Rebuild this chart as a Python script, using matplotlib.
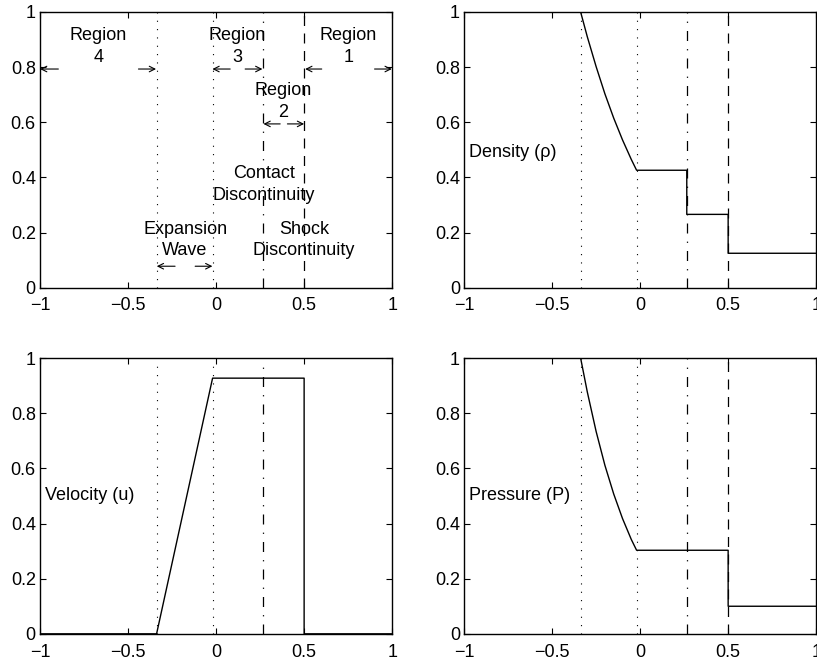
import numpy as np
import matplotlib
matplotlib.use("Agg")
import matplotlib.pyplot as plt
from matplotlib.ticker import FuncFormatter

plt.rcParams["font.family"] = ["Liberation Sans", "DejaVu Sans"]
plt.rcParams["font.size"] = 13

# wave positions (x)
x_head = -0.338      # expansion head
x_tail = -0.020     # expansion tail
x_contact = 0.265
x_shock = 0.50

rho_x = [-1.0, -0.338, -0.30, -0.25, -0.20, -0.15, -0.10, -0.05, -0.020,
         0.265, 0.265, 0.50, 0.50, 1.0]
rho_y = [1.0, 1.0, 0.910, 0.802, 0.703, 0.615, 0.536, 0.465, 0.426,
         0.426, 0.266, 0.266, 0.125, 0.125]

u_x = [-1.0, -0.338, -0.020, 0.50, 0.50, 1.0]
u_y = [0.0, 0.0, 0.927, 0.927, 0.0, 0.0]

p_x = [-1.0, -0.338, -0.30, -0.25, -0.20, -0.15, -0.10, -0.05, -0.020,
       0.50, 0.50, 1.0]
p_y = [1.0, 1.0, 0.877, 0.734, 0.611, 0.507, 0.418, 0.342, 0.303,
       0.303, 0.100, 0.100]

xticks = [-1, -0.5, 0, 0.5, 1]
yticks = [0, 0.2, 0.4, 0.6, 0.8, 1]

DOT = (0, (1, 6.5))
DASHDOT = (0, (8, 6.5, 1, 6.5))
DASH = (0, (8, 6))


def fmt(v, pos):
    return ("%g" % v).replace("-", "\u2212")


def style(ax):
    ax.set_xlim(-1, 1)
    ax.set_ylim(0, 1)
    ax.set_xticks(xticks)
    ax.set_yticks(yticks)
    ax.xaxis.set_major_formatter(FuncFormatter(fmt))
    ax.yaxis.set_major_formatter(FuncFormatter(fmt))
    ax.tick_params(direction="in", length=4, width=0.8, top=True, right=True,
                   labelsize=13)
    ax.tick_params(axis="x", pad=7)
    ax.tick_params(axis="y", pad=3)
    for s in ax.spines.values():
        s.set_linewidth(1.0)


def wave_lines(ax, top=1.0, shock=True):
    ax.plot([x_head, x_head], [0, top], color="k", ls=DOT, lw=0.8)
    ax.plot([x_tail, x_tail], [0, top], color="k", ls=DOT, lw=0.8)
    ax.plot([x_contact, x_contact], [0, top], color="k", ls=DASHDOT, lw=0.9)
    if shock:
        ax.plot([x_shock, x_shock], [0, 1], color="k", ls=DASH, lw=0.9)


def arrow(ax, x0, x1, y):
    ax.annotate("", xy=(x1, y), xytext=(x0, y),
                arrowprops=dict(arrowstyle="->", lw=0.8, color="k",
                                shrinkA=0, shrinkB=0, mutation_scale=10))


fig = plt.figure(figsize=(8.17, 6.63), dpi=100)
W, H = 0.431, 0.416
ax1 = fig.add_axes([0.049, 0.566, W, H])
ax2 = fig.add_axes([0.568, 0.566, W, H])
ax3 = fig.add_axes([0.049, 0.044, W, H])
ax4 = fig.add_axes([0.568, 0.044, W, H])
for ax in (ax1, ax2, ax3, ax4):
    style(ax)

# 1. regions sketch
wave_lines(ax1)
txt = dict(ha="center", va="center", fontsize=13, linespacing=1.35)
ax1.text(-0.67, 0.875, "Region\n4", **txt)
ax1.text(0.12, 0.875, "Region\n3", **txt)
ax1.text(0.75, 0.875, "Region\n1", **txt)
ax1.text(0.38, 0.675, "Region\n2", **txt)
ax1.text(0.27, 0.375, "Contact\nDiscontinuity", **txt)
ax1.text(-0.176, 0.173, "Expansion\nWave", **txt)
ax1.text(0.50, 0.173, "Shock\nDiscontinuity", **txt)
arrow(ax1, -0.896, -1.0, 0.793)
arrow(ax1, -0.441, -0.341, 0.793)
arrow(ax1, 0.080, -0.021, 0.793)
arrow(ax1, 0.165, 0.263, 0.793)
arrow(ax1, 0.600, 0.506, 0.793)
arrow(ax1, 0.900, 0.998, 0.793)
arrow(ax1, 0.364, 0.269, 0.594)
arrow(ax1, 0.405, 0.500, 0.594)
arrow(ax1, -0.233, -0.337, 0.078)
arrow(ax1, -0.119, -0.021, 0.078)

# 2. density
wave_lines(ax2)
ax2.plot(rho_x, rho_y, color="k", lw=1.0)
ax2.text(-0.97, 0.49, "Density (\u03c1)", ha="left", va="center")

# 3. velocity
wave_lines(ax3, top=0.98, shock=False)
ax3.plot(u_x, u_y, color="k", lw=1.0)
ax3.text(-0.972, 0.50, "Velocity (u)", ha="left", va="center")

# 4. pressure
wave_lines(ax4)
ax4.plot(p_x, p_y, color="k", lw=1.0)
ax4.text(-0.97, 0.50, "Pressure (P)", ha="left", va="center")

fig.savefig("out.png", dpi=100)
